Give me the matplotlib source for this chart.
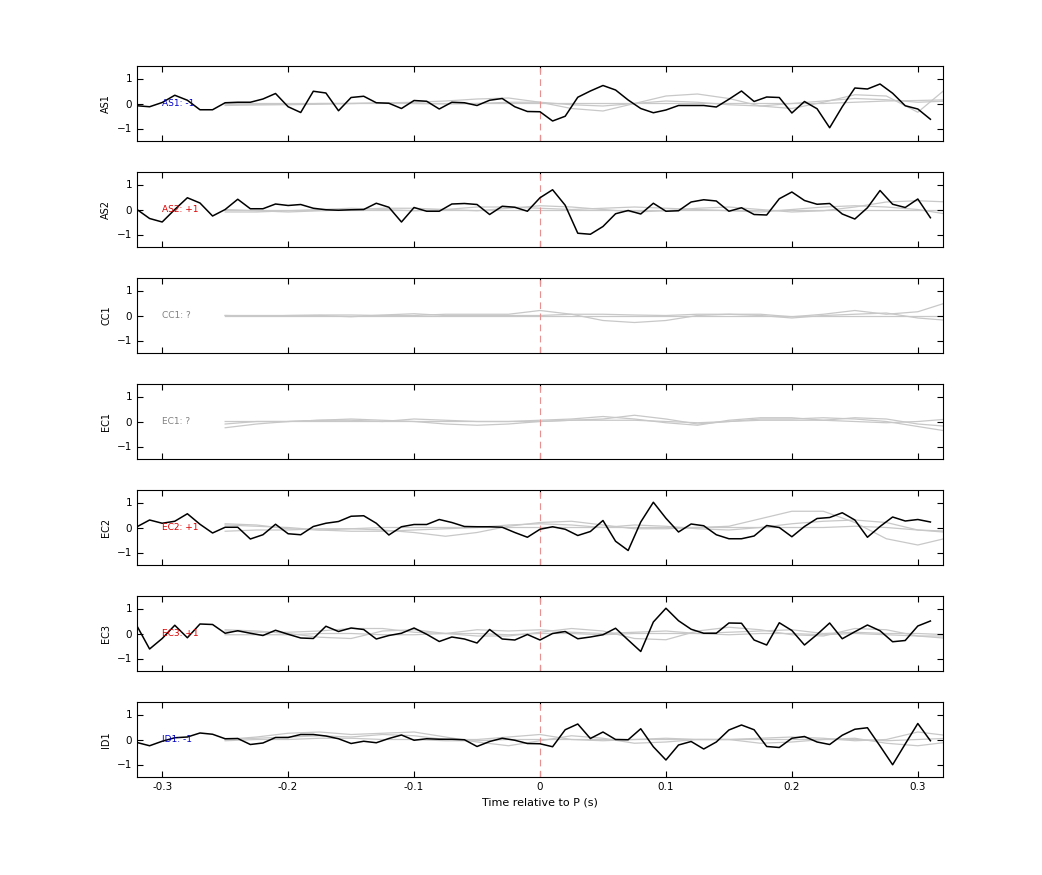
import matplotlib
matplotlib.use("Agg")
import matplotlib.pyplot as plt
import numpy as np

t_black = np.round(np.arange(-0.32, 0.315, 0.01), 3)  # 64 samples
t_grey = np.round(np.arange(-0.25, 0.3251, 0.025), 3)  # 24 samples

stations = ["AS1", "AS2", "CC1", "EC1", "EC2", "EC3", "ID1"]
polarity = ["-1", "+1", "?", "?", "+1", "+1", "-1"]

black = {
    "AS1": [-0.09,-0.13,0.04,0.33,0.13,-0.25,-0.25,0.03,0.05,0.05,0.18,0.40,-0.13,-0.36,0.49,0.42,
            -0.29,0.24,0.29,0.03,0.01,-0.20,0.12,0.09,-0.22,0.05,0.03,-0.08,0.13,0.20,-0.13,-0.32,
            -0.33,-0.70,-0.51,0.25,0.50,0.72,0.54,0.14,-0.20,-0.37,-0.26,-0.08,-0.08,-0.08,-0.14,0.17,
            0.50,0.08,0.26,0.24,-0.38,0.08,-0.21,-0.97,-0.13,0.62,0.58,0.78,0.41,-0.09,-0.22,-0.63],
    "AS2": [0.00,-0.36,-0.50,0.00,0.47,0.26,-0.26,0.00,0.41,0.03,0.03,0.22,0.16,0.20,0.05,-0.01,
            -0.03,-0.01,0.00,0.25,0.09,-0.50,0.08,-0.07,-0.07,0.22,0.24,0.20,-0.20,0.13,0.09,-0.07,
            0.47,0.79,0.17,-0.95,-0.99,-0.68,-0.17,-0.04,-0.18,0.25,-0.07,-0.05,0.30,0.39,0.34,-0.07,
            0.07,-0.20,-0.22,0.43,0.70,0.36,0.21,0.24,-0.18,-0.38,0.07,0.76,0.21,0.08,0.42,-0.33],
    "CC1": None,
    "EC1": None,
    "EC2": [0.03,0.30,0.17,0.25,0.55,0.13,-0.22,0.01,0.01,-0.46,-0.29,0.13,-0.25,-0.29,0.04,0.17,
            0.24,0.45,0.47,0.17,-0.30,0.03,0.12,0.12,0.32,0.20,0.04,0.03,0.03,0.01,-0.20,-0.39,
            -0.07,0.03,-0.07,-0.32,-0.16,0.28,-0.55,-0.92,0.22,1.01,0.37,-0.18,0.14,0.07,-0.29,-0.45,
            -0.45,-0.34,0.08,0.00,-0.37,0.04,0.36,0.40,0.59,0.30,-0.39,0.04,0.42,0.26,0.32,0.22],
    "EC3": [0.30,-0.62,-0.20,0.33,-0.17,0.38,0.36,0.01,0.11,0.01,-0.08,0.13,-0.03,-0.18,-0.20,0.29,
            0.08,0.22,0.16,-0.22,-0.08,0.01,0.22,-0.03,-0.32,-0.14,-0.22,-0.38,0.16,-0.22,-0.26,-0.04,
            -0.26,0.00,0.08,-0.21,-0.14,-0.05,0.21,-0.26,-0.72,0.46,1.01,0.51,0.17,0.01,0.01,0.42,
            0.41,-0.26,-0.46,0.43,0.12,-0.46,-0.04,0.42,-0.21,0.07,0.34,0.11,-0.33,-0.28,0.30,0.50],
    "ID1": [-0.12,-0.25,-0.07,0.07,0.10,0.26,0.21,0.03,0.04,-0.20,-0.14,0.08,0.08,0.20,0.20,0.14,
            0.03,-0.16,-0.07,-0.13,0.04,0.18,-0.03,0.03,0.01,0.01,-0.01,-0.28,-0.08,0.05,-0.03,-0.16,
            -0.17,-0.29,0.39,0.62,0.04,0.30,0.00,-0.01,0.43,-0.29,-0.82,-0.22,-0.08,-0.38,-0.10,0.38,
            0.58,0.39,-0.28,-0.32,0.05,0.12,-0.10,-0.20,0.17,0.41,0.47,-0.26,-1.01,-0.18,0.64,-0.05],
}

grey = {
    "AS1": [[-0.05,-0.05,-0.05,-0.03,0,0.02,0.05,0.1,0.18,0.22,0.05,-0.2,-0.3,0.0,0.3,0.38,0.2,-0.1,-0.2,0.05,0.35,0.3,-0.35,0.7],
            [0,0,0,0,0,0,0,0,0,0,0,0,0,0,0,0,0,0,0,0,0.05,0.1,0.12,0.15],
            [-0.08,-0.05,-0.03,0,0,0.02,0,-0.02,0,0.05,0.05,-0.05,-0.1,0,0.1,0.05,-0.05,-0.1,0,0.1,0.2,0.15,0.05,0.1]],
    "AS2": [[0,-0.05,-0.1,-0.05,0,0.05,0.05,0,-0.05,0.05,0.15,0.1,0,-0.1,-0.05,0.05,0.1,0,-0.1,-0.05,0.1,0.3,0.35,0.3],
            [-0.1,-0.1,-0.05,0,0.05,0,-0.05,0,0.1,0.1,0.05,0,0.05,0.1,0.05,0,-0.05,-0.1,0,0.1,0.15,0.1,0,-0.2],
            [0,0,0,0,0,0,0,0,0,0,0,0,0,0,0,0,0,0,0,0,0,0,0,0]],
    "CC1": [[0,0,0,0.02,0.02,0,0,0.05,0.05,0.05,0.2,0.05,-0.2,-0.28,-0.2,0,0.05,0.05,-0.05,0.05,0.2,0.05,0.15,0.55],
            [0,-0.03,0,0,-0.05,0.02,0.07,0,0,0,0,0.05,0.05,0.02,0,0.05,0.05,0,-0.1,0,0.05,0.1,-0.1,-0.2],
            [0,0,0,0,0,0,0,0,0,0,0,0,0,0,0,0,0,0,0,0,0,0,0,0]],
    "EC1": [[-0.25,-0.1,0,0.05,0.1,0.05,0,-0.1,-0.15,-0.1,0,0.05,0.1,0.25,0.1,-0.1,0,0.1,0.1,0.15,0.1,0,-0.2,-0.4],
            [-0.1,0,0,0.05,0.05,0,0.1,0.05,0,0,0.05,0.1,0.2,0.1,-0.05,-0.15,0.05,0.15,0.15,0.05,0.15,0.1,-0.1,-0.2],
            [0,0,0,0,0,0,0,0,0,0,0,0.05,0.05,0.05,0,-0.05,0,0.05,0.05,0.05,0,-0.05,0,0.1]],
    "EC2": [[0.15,0.1,-0.05,-0.1,-0.05,-0.1,-0.2,-0.35,-0.2,0.05,0.2,0.25,0.1,-0.05,-0.05,0,0.05,0.35,0.65,0.65,0.2,-0.45,-0.7,-0.4],
            [0.1,0.05,0,-0.1,-0.15,-0.15,-0.1,-0.05,0,0.1,0.15,0.1,0,0.1,0.05,-0.05,-0.1,0,0.15,0.25,0.3,0.2,-0.1,-0.2],
            [-0.15,-0.1,-0.1,-0.05,-0.05,0,0,0,0,0,0,0,0,0,0,0,0,0,0,0,0.05,0,-0.1,-0.15]],
    "EC3": [[0.15,0.1,0,-0.15,-0.2,0.1,0.15,0,-0.1,-0.1,0.05,0.2,0.1,-0.2,-0.25,0.1,0.25,0.15,-0.05,-0.1,0.2,0.15,-0.1,-0.2],
            [0.1,0.05,0.05,0.1,0.2,0.2,0.05,0,0.15,0.1,0.15,0.05,0,0.05,0.1,0,0.05,0.1,0.15,0,0.05,0,0,-0.05],
            [-0.05,-0.05,-0.05,0,0,-0.05,-0.05,0,0,-0.05,0,0,-0.05,0,0,0,-0.05,0,0,-0.05,0,-0.05,-0.1,-0.1]],
    "ID1": [[0,0.1,0.25,0.3,0.2,0.25,0.3,0.1,-0.1,-0.25,-0.05,0.15,0.05,-0.15,-0.1,0,0,-0.15,-0.1,0,0.05,-0.15,-0.25,-0.1],
            [0,0.05,0.1,0.15,0.1,0.2,0.15,0,0,0.1,0.2,0,-0.05,0,0.05,0,0,0.05,0.1,0.05,-0.05,0,0.3,0.15],
            [-0.05,0,0,0.05,0.05,0,0,-0.05,-0.05,0,0,0,0,0,0,0,0,0,0,0,0,-0.05,0,0.05]],
}

pol_colors = {"-1": "#0000cc", "+1": "#dd0000", "?": "#808080"}

fig = plt.figure(figsize=(10.42, 8.75), dpi=100)
left, width = 137/1042, 806/1042
h = 75/875
for i, st in enumerate(stations):
    top_px = 66 + 106*i
    ax = fig.add_axes([left, 1 - (top_px + 75)/875, width, h])
    for g in grey[st]:
        ax.plot(t_grey, g, color="#c8c8c8", lw=0.9, zorder=1)
    ax.axvline(0, color="#e89090", lw=0.8, ls=(0, (6, 4)), zorder=2)
    if black[st] is not None:
        ax.plot(t_black, black[st], color="black", lw=1.1, zorder=3)
    ax.text(-0.3, 0, f"{st}: {polarity[i]}", color=pol_colors[polarity[i]],
            fontsize=6.5, va="center", ha="left", zorder=4)
    ax.set_xlim(-0.32, 0.32)
    ax.set_ylim(-1.5, 1.5)
    ax.set_yticks([-1, 0, 1])
    ax.set_xticks([-0.3, -0.2, -0.1, 0, 0.1, 0.2, 0.3])
    ax.tick_params(direction="in", top=True, right=True, labelsize=7.5, length=4, width=0.8)
    ax.set_ylabel(st, fontsize=7)
    for s in ax.spines.values():
        s.set_linewidth(0.8)
    if i < len(stations) - 1:
        ax.set_xticklabels([])
    else:
        ax.set_xticklabels(["-0.3", "-0.2", "-0.1", "0", "0.1", "0.2", "0.3"])
        ax.set_xlabel("Time relative to P (s)", fontsize=8)

fig.savefig("out.png", dpi=100)
